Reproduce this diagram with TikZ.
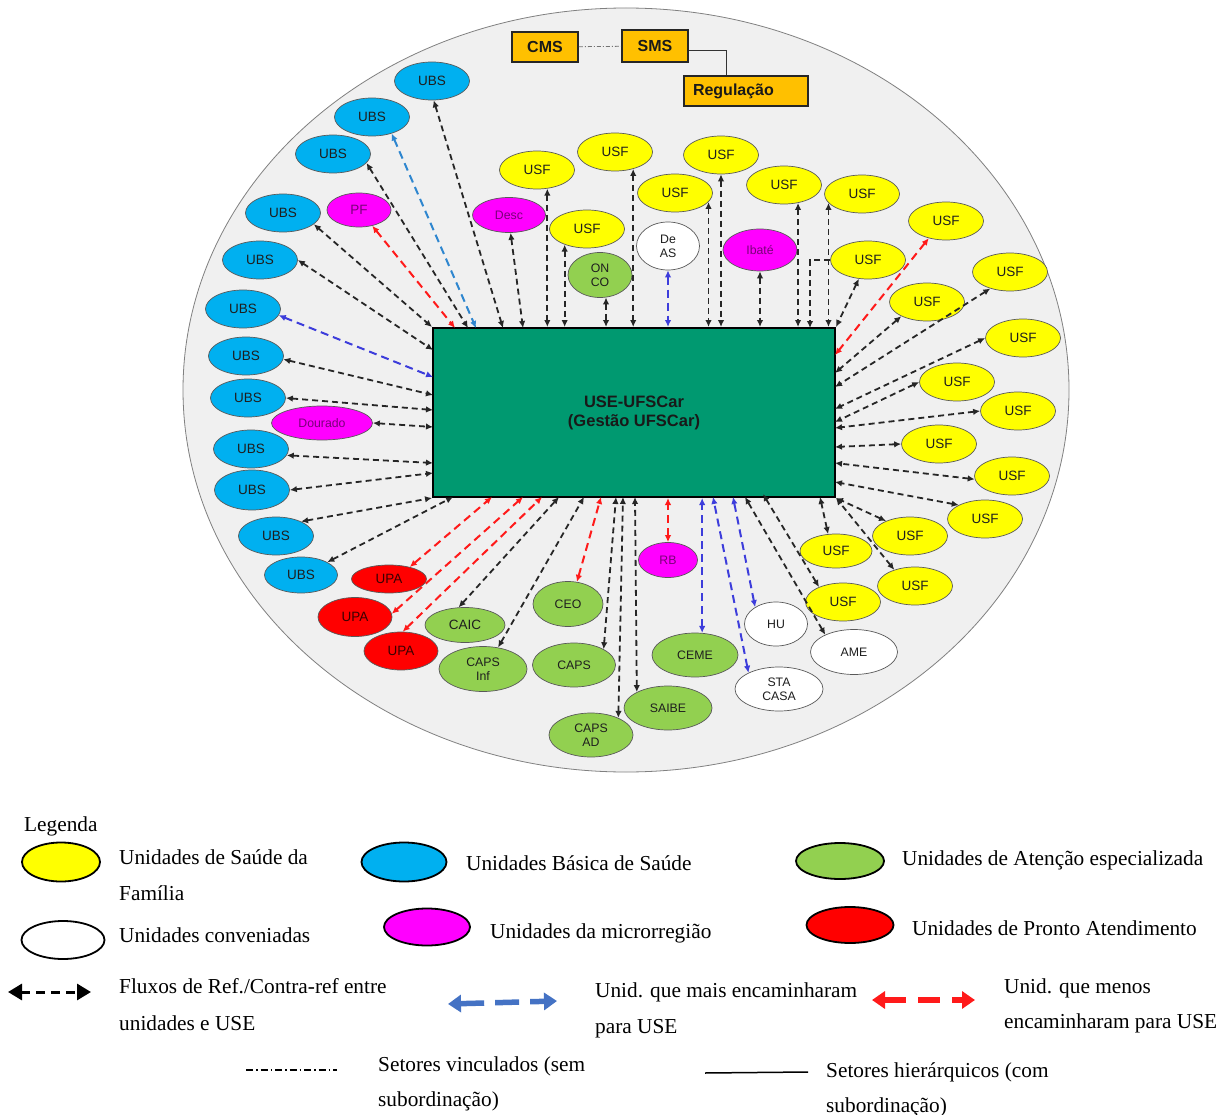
\documentclass[tikz,border=0pt]{standalone}
\usepackage{fontspec}
\setmainfont{Liberation Serif}
\setsansfont{Liberation Sans}
\usetikzlibrary{shapes.geometric,arrows.meta}
\definecolor{cBG}{HTML}{F0F0F0}
\definecolor{cUSF}{HTML}{FFFF00}
\definecolor{cUBS}{HTML}{00B0F0}
\definecolor{cMic}{HTML}{FF00FF}
\definecolor{cMicT}{HTML}{7A007A}
\definecolor{cEsp}{HTML}{92D050}
\definecolor{cUPA}{HTML}{FF0000}
\definecolor{cUPAT}{HTML}{3A0000}
\definecolor{cUSE}{HTML}{009970}
\definecolor{cOrg}{HTML}{FFC000}
\definecolor{cFlow}{HTML}{262626}
\definecolor{cBlue}{HTML}{3D3DDB}
\definecolor{cBlueL}{HTML}{2E86CF}
\definecolor{cRed}{HTML}{FF1A1A}
\definecolor{cLegB}{HTML}{4472C4}
\definecolor{cTxt}{HTML}{1E1E1E}
\tikzset{
  unit/.style={ellipse, draw=black!65, line width=0.7pt, inner sep=0pt, align=center,
    text=cTxt, font=\sffamily\fontsize{12.3}{14}\selectfont},
  bigtxt/.style={font=\sffamily\fontsize{13.5}{15}\selectfont},
  ubs/.style={unit, bigtxt, fill=cUBS, minimum width=75pt, minimum height=38pt},
  usf/.style={unit, bigtxt, fill=cUSF, minimum width=75pt, minimum height=38pt},
  micro/.style={unit, fill=cMic, text=cMicT},
  esp/.style={unit, fill=cEsp},
  conv/.style={unit, fill=white},
  upa/.style={unit, bigtxt, fill=cUPA, text=cUPAT},
  org/.style={rectangle, draw=black!85, line width=1.8pt, fill=cOrg,
    font=\sffamily\bfseries\fontsize{16}{18}\selectfont, text=black!90, inner sep=0pt},
  ftip/.tip={Latex[length=7pt,width=6.5pt]},
  flow/.style={line width=1.8pt, draw=cFlow, dash pattern=on 6pt off 4pt, ftip-ftip},
  flowone/.style={line width=1.8pt, draw=cFlow, dash pattern=on 6pt off 4pt, -ftip},
  flowB/.style={line width=2pt, draw=cBlue, dash pattern=on 8pt off 5pt, ftip-ftip},
  flowBL/.style={line width=2pt, draw=cBlueL, dash pattern=on 8pt off 5pt, ftip-ftip},
  flowR/.style={line width=2pt, draw=cRed, dash pattern=on 8pt off 5pt, ftip-ftip},
  linked/.style={draw=black!55, line width=0.8pt, dash pattern=on 4pt off 2pt on 1pt off 2pt},
  hier/.style={draw=black!80, line width=0.9pt},
  legell/.style={ellipse, draw=black, line width=1.8pt, inner sep=0pt},
  legtxt/.style={anchor=base west, inner sep=0pt, font=\fontsize{21.3}{24}\selectfont, text=black},
  ltip/.tip={Triangle[length=14pt,width=16pt]},
}
\begin{document}
\begin{tikzpicture}[x=1pt,y=-1pt]
\useasboundingbox (0,0) rectangle (1226,1115);
\fill[white] (0,0) rectangle (1226,1115);
% background disc
\draw[fill=cBG, draw=black!50, line width=0.8pt] (626,390) ellipse [x radius=443, y radius=382];

% management boxes
\node[org, minimum width=66pt, minimum height=30pt] (cms) at (545,47) {CMS};
\node[org, minimum width=66pt, minimum height=32pt] (sms) at (655,46) {SMS};
\node[org, minimum height=30pt, text width=106pt, inner xsep=9pt, align=left] (reg) at (746,91) {Regulação};
\coordinate (kReg) at (726,0);
\draw[linked] (cms) -- (sms);
\draw[hier] (sms.-8) -| (reg.north -| kReg);

% central unit
\node[draw=black, line width=2pt, fill=cUSE, minimum width=402pt, minimum height=169pt,
  inner sep=0pt, align=center, font=\sffamily\bfseries\fontsize{16.5}{19}\selectfont, text=black!90]
  (use) at (634,412.5) {USE-UFSCar\\(Gestão UFSCar)};

% UBS
\node[ubs] (ubs1) at (432,81) {UBS};
\node[ubs] (ubs2) at (372,117) {UBS};
\node[ubs] (ubs3) at (333,154) {UBS};
\node[ubs] (ubs4) at (283,213) {UBS};
\node[ubs] (ubs5) at (260,260) {UBS};
\node[ubs] (ubs6) at (243,309) {UBS};
\node[ubs] (ubs7) at (246,356) {UBS};
\node[ubs] (ubs8) at (248,398) {UBS};
\node[ubs] (ubs9) at (251,449) {UBS};
\node[ubs, minimum height=40pt] (ubs10) at (252,490) {UBS};
\node[ubs] (ubs11) at (276,536) {UBS};
\node[ubs, minimum width=73pt, minimum height=36pt] (ubs12) at (301,575) {UBS};

% microregion
\node[micro, bigtxt, minimum width=64pt, minimum height=34pt] (pf) at (359,210) {PF};
\node[micro, minimum width=73pt, minimum height=35pt] (desc) at (509,215) {Desc};
\node[micro, minimum width=74pt, minimum height=42pt] (ibate) at (760,250) {Ibaté};
\node[micro, minimum width=101pt, minimum height=34pt] (dourado) at (322,423) {Dourado};
\node[micro, minimum width=59pt, minimum height=35pt] (rb) at (668,560) {RB};

% USF
\node[usf] (usfA) at (537,170) {USF};
\node[usf] (usfB) at (615,152) {USF};
\node[usf] (usfC) at (587,229) {USF};
\node[usf] (usfD) at (675,193) {USF};
\node[usf] (usfE) at (721,155) {USF};
\node[usf] (usfF) at (784,185) {USF};
\node[usf] (usfG) at (862,194) {USF};
\node[usf] (usfH) at (868,260) {USF};
\node[usf] (usfI) at (946,221) {USF};
\node[usf] (usfJ) at (1010,272) {USF};
\node[usf] (usfK) at (927,302) {USF};
\node[usf] (usfL) at (1023,338) {USF};
\node[usf] (usfM) at (957,382) {USF};
\node[usf] (usfN) at (1018,411) {USF};
\node[usf] (usfO) at (939,444) {USF};
\node[usf] (usfP) at (1012,476) {USF};
\node[usf] (usfQ) at (985,519) {USF};
\node[usf] (usfR) at (910,536) {USF};
\node[usf, minimum width=72pt, minimum height=34pt] (usfS) at (836,551) {USF};
\node[usf] (usfT) at (915,586) {USF};
\node[usf] (usfU) at (843,602) {USF};

% specialised, conveniadas, UPA
\node[esp, minimum width=64pt, minimum height=45pt] (onco) at (600,275) {ON\\CO};
\node[conv, minimum width=63pt, minimum height=48pt] (deas) at (668,246) {De\\AS};
\node[conv, minimum width=63pt, minimum height=44pt] (hu) at (776,624) {HU};
\node[conv, minimum width=87pt, minimum height=45pt] (ame) at (854,652) {AME};
\node[esp, minimum width=86pt, minimum height=44pt] (ceme) at (695,655) {CEME};
\node[conv, minimum width=88pt, minimum height=44pt] (sta) at (779,689) {STA\\CASA};
\node[esp, minimum width=88pt, minimum height=44pt] (saibe) at (668,708) {SAIBE};
\node[upa, minimum width=75pt, minimum height=28pt] (upa1) at (389,579) {UPA};
\node[upa, minimum width=74pt, minimum height=39pt] (upa2) at (355,617) {UPA};
\node[upa, minimum width=74pt, minimum height=38pt] (upa3) at (401,651) {UPA};
\node[esp, bigtxt, minimum width=80pt, minimum height=35pt] (caic) at (465,625) {CAIC};
\node[esp, minimum width=88pt, minimum height=45pt] (capsinf) at (483,669) {CAPS\\Inf};
\node[esp, minimum width=70pt, minimum height=45pt] (ceo) at (568,604) {CEO};
\node[esp, minimum width=83pt, minimum height=44pt] (caps) at (574,665) {CAPS};
\node[esp, minimum width=84pt, minimum height=44pt] (capsad) at (591,735) {CAPS\\AD};

% rectangle end points
\coordinate (tPF) at (455,328);
\coordinate (tU3) at (468,328);
\coordinate (tU2) at (476,328);
\coordinate (tU1) at (503,328);
\coordinate (tDesc) at (523,328);
\coordinate (tH) at (810,328);
\coordinate (lU5) at (433,350);
\coordinate (lU6) at (433,377);
\coordinate (lU7) at (433,395);
\coordinate (lU8) at (433,410);
\coordinate (lDo) at (433,427);
\coordinate (lU9) at (433,463);
\coordinate (lU10) at (433,473);
\coordinate (bU12) at (453,497);
\coordinate (bUPA1) at (492,497);
\coordinate (bUPA2) at (523,497);
\coordinate (bUPA3) at (542,497);
\coordinate (bCAIC) at (559,497);
\coordinate (bCI) at (584,497);
\coordinate (bCEO) at (601,497);
\coordinate (bCAPS) at (616,497);
\coordinate (bCAPSAD) at (623,497);
\coordinate (bSAIBE) at (635,497);
\coordinate (bSTA) at (713,497);
\coordinate (bHU) at (733,497);
\coordinate (bAME) at (745,497);
\coordinate (bU) at (763,494);
\coordinate (bS) at (820,497);
\coordinate (rR1) at (835,355);
\coordinate (rR2) at (835,373);
\coordinate (rR3) at (835,387);
\coordinate (rR4) at (835,409);
\coordinate (rR5) at (835,422);
\coordinate (rR6) at (835,428);
\coordinate (rR7) at (835,447);
\coordinate (rR8) at (835,463);
\coordinate (rR9) at (835,482);

% top connectors
\draw[flowR] (pf.-50) -- (tPF);
\draw[flow] (ubs3.-15) -- (tU3);
\draw[flowBL] (ubs2.-40) -- (tU2);
\draw[flow] (ubs1.-85) -- (tU1);
\draw[flow] (desc.-85) -- (tDesc);
\draw[flow] (usfA.-61) -- (usfA.-61 |- use.north);
\draw[flow] (usfC.215) -- (usfC.215 |- use.north);
\draw[flow] (onco.-75) -- (onco.-75 |- use.north);
\draw[flow] (usfB.-43) -- (usfB.-43 |- use.north);
\draw[flowB] (deas.south) -- (deas.south |- use.north);
\draw[flow] (usfD.-15) -- (usfD.-15 |- use.north);
\draw[flow] (usfE.south) -- (usfE.south |- use.north);
\draw[flow] (ibate.south) -- (ibate.south |- use.north);
\draw[flow] (usfF.-52) -- (usfF.-52 |- use.north);
\draw[flow] (usfG.195) -- (usfG.195 |- use.north);
\draw[flowone] (usfH.west) -| (tH);
\draw[flow] (usfH.244) -- (use.north east);

% right connectors
\draw[flowR] (usfI.225) -- (rR1);
\draw[flow] (usfK.209) -- (rR2);
\draw[flow] (usfJ.220) -- (rR3);
\draw[flow] (usfL.west) -- (rR4);
\draw[flow] (usfM.west) -- (rR5);
\draw[flow] (usfN.west) -- (rR6);
\draw[flow] (usfO.west) -- (rR7);
\draw[flow] (usfP.185) -- (rR8);
\draw[flow] (usfQ.152) -- (rR9);
\draw[flow] (usfR.148) -- (use.south east);
\draw[flow] (usfT.142) -- (use.south east);

% bottom connectors
\draw[flow] (usfS.115) -- (bS);
\draw[flow] (usfU.148) -- (bU);
\draw[flow] (ame.149) -- (bAME);
\draw[flowB] (hu.141) -- (bHU);
\draw[flowB] (sta.152) -- (bSTA);
\draw[flowB] (ceme.72) -- (ceme.72 |- use.south);
\draw[flowR] (rb.north) -- (rb.north |- use.south);
\draw[flow] (saibe.153) -- (bSAIBE);
\draw[flow] (capsad.32) -- (bCAPSAD);
\draw[flow] (caps.28) -- (bCAPS);
\draw[flowR] (ceo.68) -- (bCEO);
\draw[flow] (capsinf.55) -- (bCI);
\draw[flow] (caic.110) -- (bCAIC);
\draw[flowR] (upa3.85) -- (bUPA3);
\draw[flowR] (upa2.5) -- (bUPA2);
\draw[flowR] (upa1.30) -- (bUPA1);
\draw[flow] (ubs12.26) -- (bU12);
\draw[flow] (ubs11.30) -- (use.south west);

% left connectors
\draw[flow] (ubs10.east) -- (lU10);
\draw[flow] (ubs9.-10) -- (lU9);
\draw[flow] (dourado.east) -- (lDo);
\draw[flow] (ubs8.east) -- (lU8);
\draw[flow] (ubs7.-5) -- (lU7);
\draw[flowB] (ubs6.-10) -- (lU6);
\draw[flow] (ubs5.east) -- (lU5);
\draw[flow] (ubs4.-20) -- (use.north west);

% legend
\node[legtxt] (lgT) at (24,831) {Legenda};
\node[legell, fill=cUSF, minimum width=78pt, minimum height=39pt] (lgUSF) at (61,862) {};
\node[legell, fill=cUBS, minimum width=85pt, minimum height=39pt] (lgUBS) at (404,862) {};
\node[legell, fill=cEsp, minimum width=88pt, minimum height=36pt] (lgEsp) at (840,861) {};
\node[legell, fill=white, minimum width=83pt, minimum height=38pt] (lgConv) at (63,940) {};
\node[legell, fill=cMic, minimum width=86pt, minimum height=37pt] (lgMic) at (427,927) {};
\node[legell, fill=cUPA, minimum width=87pt, minimum height=36pt] (lgUPA) at (850,925) {};
\node[legtxt] (lt1) at (119,864) {Unidades de Saúde da};
\node[legtxt] (lt1b) at (119,900) {Família};
\node[legtxt] (lt2) at (466,870) {Unidades Básica de Saúde};
\node[legtxt] (lt3) at (902,865) {Unidades de Atenção especializada};
\node[legtxt] (lt4) at (119,942) {Unidades conveniadas};
\node[legtxt] (lt5) at (490,938) {Unidades da microrregião};
\node[legtxt] (lt6) at (912,935) {Unidades de Pronto Atendimento};
\node[legtxt] (lt7) at (119,993) {Fluxos de Ref./Contra-ref entre};
\node[legtxt] (lt7b) at (119,1030) {unidades e USE};
\node[legtxt] (lt8) at (595,997) {Unid. que mais encaminharam};
\node[legtxt] (lt8b) at (595,1033) {para USE};
\node[legtxt] (lt9) at (1004,993) {Unid. que menos};
\node[legtxt] (lt9b) at (1004,1028) {encaminharam para USE};
\node[legtxt] (lt10) at (378,1071) {Setores vinculados (sem};
\node[legtxt] (lt10b) at (378,1106) {subordinação)};
\node[legtxt] (lt11) at (826,1077) {Setores hierárquicos (com};
\node[legtxt] (lt11b) at (826,1112) {subordinação)};

\coordinate (la1) at (8,992);
\coordinate (la2) at (91,992);
\draw[line width=3pt, dash pattern=on 9pt off 6pt, ltip-ltip] (la1) -- (la2);
\coordinate (lb1) at (448,1004);
\coordinate (lb2) at (557,1001);
\draw[line width=5.5pt, draw=cLegB, dash pattern=on 24pt off 11pt,
  {Triangle[length=13pt,width=17pt]}-{Triangle[length=13pt,width=17pt]}] (lb1) -- (lb2);
\coordinate (lc1) at (872,1000);
\coordinate (lc2) at (975,1000);
\draw[line width=5.5pt, draw=cRed, dash pattern=on 22pt off 12pt,
  {Triangle[length=13pt,width=17pt]}-{Triangle[length=13pt,width=17pt]}] (lc1) -- (lc2);
\coordinate (ld1) at (246,1070);
\coordinate (ld2) at (337,1070);
\draw[line width=1.4pt, dash pattern=on 7pt off 3pt on 1.5pt off 3pt] (ld1) -- (ld2);
\coordinate (le1) at (705,1073);
\coordinate (le2) at (808,1072);
\draw[line width=1.5pt] (le1) -- (le2);
\end{tikzpicture}
\end{document}
